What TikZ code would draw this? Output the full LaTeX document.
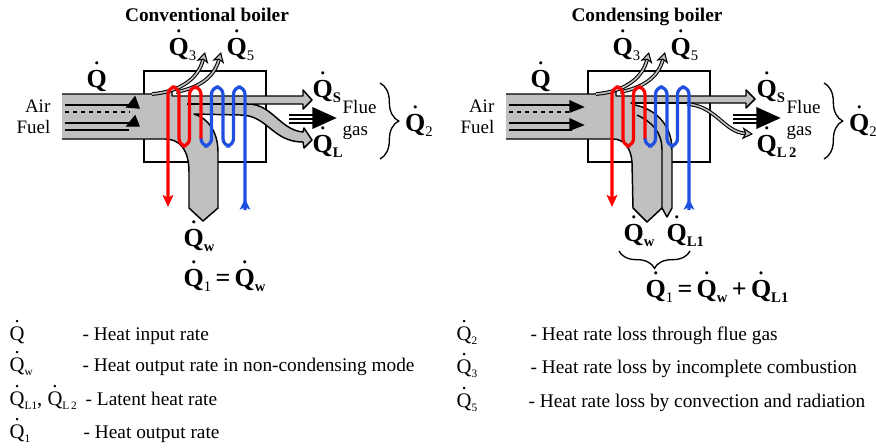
\documentclass[tikz,border=0pt]{standalone}
\usepackage{fontspec}
\setmainfont{Liberation Serif}
\usetikzlibrary{arrows.meta,decorations.pathreplacing}
\tikzset{
every picture/.style={
line width=1pt
},
flow/.style={draw=black, fill=flowgray, line width=1.1pt, line join=round},
leak/.style={draw=black, double=flowgray, double distance=1.2pt, line width=0.8pt, -{Stealth[length=8pt,width=9pt,inset=2pt,fill=flowgray,line width=0.8pt]}},
bigq/.style={anchor=base west, font=\fontsize{19.5}{22}\selectfont\bfseries, inner sep=0pt},
plain/.style={anchor=base, font=\fontsize{14.25}{16}\selectfont, inner sep=0pt},
title/.style={anchor=base, font=\fontsize{14.5}{16}\selectfont\bfseries, inner sep=0pt},
legend/.style={anchor=base west, font=\fontsize{14.5}{16}\selectfont, inner sep=0pt},
legendq/.style={anchor=base west, font=\fontsize{15.5}{18}\selectfont, inner sep=0pt}
}
\definecolor{flowgray}{HTML}{C0C0C0}
\definecolor{hotred}{HTML}{FF0000}
\definecolor{coldblue}{HTML}{1F4FE0}
\newcommand{\qb}[1]{\makebox[0pt][l]{\hspace{.264em}\raisebox{.86em}{\mdseries.}}Q\raisebox{-.2em}{\fontsize{11}{12}\selectfont #1}}
\newcommand{\qn}[1]{\makebox[0pt][l]{\hspace{.236em}\raisebox{.86em}{.}}Q\raisebox{-.22em}{\fontsize{8.5}{9}\selectfont #1}}

\begin{document}
\begin{tikzpicture}[x=0.75pt,y=-0.75pt]
\useasboundingbox (0,0) rectangle (876,447);

% furnace boxes first, flows lie over them
\foreach \ox in {0,444}{
  \draw[line width=1.9pt] (144+\ox,71) rectangle (266+\ox,162);
}

% conventional
\draw[flow] (62,94) -- (150,94) .. controls (160,94) and (168,92) .. (172,89) -- (172,96) -- (303,96) -- (303,90) -- (312,100) -- (303,109) -- (303,104) -- (248,104)
  .. controls (272,104) and (280,130) .. (303,132) -- (304,128) -- (312,140) -- (304,148) -- (303,142)
  .. controls (272,142) and (268,115) .. (240,115) -- (194,114)
  .. controls (208,118) and (218,132) .. (218,152) -- (218,208) -- (203,221) -- (189,208) -- (189,172)
  .. controls (189,150) and (180,139) .. (165,139) -- (62,139);
\draw[line width=1.1pt] (187,104) -- (248,104);

% condensing
\begin{scope}[shift={(444,0)}]
\draw[flow] (62,94) -- (150,94) .. controls (160,94) and (168,92) .. (172,89) -- (172,96) -- (302,96) -- (302,90) -- (311,99) -- (302,108) -- (302,103) -- (187,103) -- (191,105)
  .. controls (215,110) and (228,128) .. (228,150) -- (228,208) -- (223,217) -- (218,208) -- (203,222) -- (189,208) -- (188,162)
  .. controls (187,148) and (180,139) .. (169,139) -- (62,139);
\draw[flow,fill=none] (193,115) .. controls (208,122) and (218,132) .. (218,150) -- (218,208);
\draw[leak] (243,104) .. controls (272,106) and (280,132) .. (309,134);
\draw[line width=1.1pt] (187,103) -- (243,103);
\end{scope}

\foreach \ox in {0,444}{
  \begin{scope}[shift={(\ox,0)}]
  \draw[leak] (152,94) .. controls (178,92) and (198,80) .. (205,52);
  \draw[leak] (176,92) .. controls (198,88) and (214,78) .. (221,52);
  % coil
  \draw[hotred, line width=2.4pt, rounded corners=5.5pt, -{Stealth[length=9pt,width=8pt,inset=2pt]}] (201,139) -- (201,87) -- (189.5,87) -- (189.5,146) -- (179,146) -- (179,87) -- (168,87) -- (168,207);
  \draw[coldblue, line width=2.4pt, rounded corners=5.5pt] (201,139) -- (201,146) -- (211.5,146) -- (211.5,87) -- (223,87) -- (223,146) -- (233.5,146) -- (233.5,87) -- (245,87) -- (245,210);
  \draw[coldblue, line width=1.2pt, -{Stealth[length=8pt,width=8pt,inset=2pt]}] (245,208) -- (245,199);
  % flue gas arrow
  \foreach \y in {115,119,123}{
    \draw[line width=1.1pt] (289,\y) -- (316,\y);
  }
  \draw[fill=black] (313,108) -- (335,118) -- (313,128) -- cycle;
  % labels
  \node[bigq] (qin\ox) at (86,87) {\qb{}};
  \node[bigq] (qthree\ox) at (168,55) {\qb{\mdseries 3}};
  \node[bigq] (qfive\ox) at (226,55) {\qb{\mdseries 5}};
  \node[bigq] (qs\ox) at (312,97) {\qb{S}};
  \node[bigq] (qtwo\ox) at (404.5,131) {\qb{\mdseries 2}};
  \node[plain,anchor=base east] (air\ox) at (51,112) {Air};
  \node[plain,anchor=base east] (fuel\ox) at (51,133) {Fuel};
  \node[plain,anchor=base west] (flue\ox) at (342,113) {Flue};
  \node[plain,anchor=base west] (gas\ox) at (342,135) {gas};
  \draw[decorate,decoration={brace,amplitude=14pt}] (380,83) -- (380,159);
  \end{scope}
}

% air and fuel lines
\draw[line width=1.1pt] (65,105) -- (129,105);
\draw[line width=1.1pt,dashed] (65,112) -- (130,112);
\draw[line width=1.6pt] (65,123) -- (130,123);
\draw[line width=1.1pt] (65,130) -- (129,130);
\draw[fill=black] (127,107) -- (135,97) -- (139,108) -- cycle;
\draw[fill=black] (127,126) -- (135,116) -- (139,126) -- cycle;
\draw[line width=1.1pt] (509,105) -- (572,105);
\draw[line width=1.1pt,dashed] (509,112) -- (572,112);
\draw[line width=1.6pt] (509,123) -- (572,123);
\draw[line width=1.1pt] (509,130) -- (572,130);
\draw[fill=black] (570,101) -- (583,107) -- (570,112) -- cycle;
\draw[fill=black] (570,119) -- (583,125) -- (570,130) -- cycle;

% titles and other labels
\node[title] (conv) at (207,21) {Conventional boiler};
\node[title] (cond) at (647,21) {Condensing boiler};
\node[bigq] (ql) at (312,152) {\qb{L}};
\node[bigq] (qw) at (183,246) {\qb{w}};
\node[bigq] (eql) at (183,286) {\qb{\mdseries 1}\,=\,\qb{w}};
\node[bigq] (qltwo) at (756,152) {\qb{L\,2}};
\node[bigq] (qwc) at (623,241) {\qb{w}};
\node[bigq] (qlone) at (666,241) {\qb{L1}};
\draw[decorate,decoration={brace,amplitude=13pt}] (690,251) -- (619,251);
\node[bigq] (eqr) at (645,297) {\qb{\mdseries 1}\,=\,\qb{w}\,+\,\qb{L1}};

% legend
\foreach \x/\y/\sym/\txt/\tx [count=\i] in {9/340/{\qn{}}/Heat input rate/82, 9/371/{\qn{w}}/Heat output rate in non-condensing mode/82, 9/405/{\qn{L1}, \qn{L\,2}}/Latent heat rate/85, 9/438/{\qn{1}}/Heat output rate/83, 456/340/{\qn{2}}/Heat rate loss through flue gas/530, 456/373/{\qn{3}}/Heat rate loss by incomplete combustion/530, 456/407/{\qn{5}}/Heat rate loss by convection and radiation/528}{
  \node[legendq] (sym\i) at (\x,\y) {\sym};
  \node[legend] (txt\i) at (\tx,\y) {- \txt};
}
\end{tikzpicture}
\end{document}
